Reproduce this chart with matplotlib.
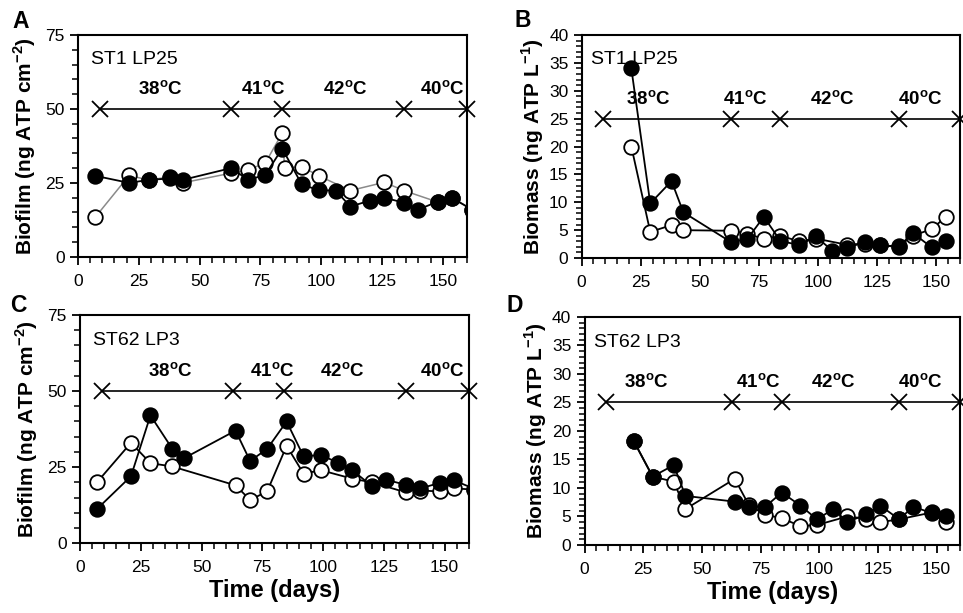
import matplotlib
matplotlib.use("Agg")
import matplotlib.pyplot as plt
from matplotlib.ticker import MultipleLocator

plt.rcParams["font.family"] = ["Liberation Sans", "DejaVu Sans"]
plt.rcParams["mathtext.fontset"] = "custom"
plt.rcParams["mathtext.rm"] = "Liberation Sans"
plt.rcParams["mathtext.bf"] = "Liberation Sans:bold"

# sampling days and ATP values (filled = one reactor, open = the other)
a_fill_days = [7, 21, 29, 38, 43, 63, 70, 77, 84, 92, 99, 106, 112, 120, 126, 134, 140, 148, 154, 162]
a_fill = [27.4, 25, 26, 26.5, 26, 30, 26, 27.7, 36.6, 24.5, 22.5, 22.4, 17, 19, 20, 18.3, 16, 18.7, 19.8, 16]
a_open_days = [7, 21, 29, 38, 43, 63, 70, 77, 84, 85, 92, 99, 112, 126, 134, 148, 154, 162]
a_open = [13.3, 27.5, 26, 27, 25, 28.3, 29.4, 31.7, 41.8, 30, 30.5, 27.4, 22.4, 25.2, 22.4, 18.5, 20, 16]

b_fill_days = [21, 29, 38, 43, 63, 70, 77, 84, 92, 99, 106, 112, 120, 126, 134, 140, 148, 154]
b_fill = [34, 9.8, 13.8, 8.2, 2.9, 3.4, 7.4, 3.1, 2.3, 3.9, 1.3, 1.8, 2.9, 2.3, 2.0, 4.5, 1.9, 3.1]
b_open_days = [21, 29, 38, 43, 63, 70, 77, 84, 92, 99, 112, 120, 126, 134, 140, 148, 154]
b_open = [20, 4.7, 5.9, 5.0, 4.9, 4.4, 3.4, 4.0, 3.0, 3.5, 2.4, 2.6, 2.3, 2.1, 4.0, 5.2, 7.4]

c_fill_days = [7, 21, 29, 38, 43, 64, 70, 77, 85, 92, 99, 106, 112, 120, 126, 134, 140, 148, 154, 162]
c_fill = [11.2, 22, 42, 31, 28, 37, 27, 31, 40, 28.5, 29, 26.5, 24, 18.8, 20.8, 19.2, 18, 19.8, 20.6, 17.9]
c_open_days = [7, 21, 29, 38, 64, 70, 77, 85, 92, 99, 112, 120, 134, 140, 148, 154, 162]
c_open = [20, 33, 26.3, 25.2, 19, 14.2, 17, 32, 22.8, 24, 21.2, 20, 16.7, 17.3, 17, 18, 17.6]

d_fill_days = [21, 29, 38, 43, 64, 70, 77, 84, 92, 99, 106, 112, 120, 126, 134, 140, 148, 154]
d_fill = [18.2, 12, 14, 8.6, 7.6, 6.7, 6.7, 9.2, 6.9, 4.5, 6.3, 4, 5.4, 6.9, 4.5, 6.7, 5.6, 5.1]
d_open_days = [21, 29, 38, 43, 64, 70, 77, 84, 92, 99, 112, 120, 126, 134, 148, 154]
d_open = [18.2, 12, 11.1, 6.3, 11.6, 7, 5.3, 4.7, 3.3, 3.5, 5, 4.6, 4, 4.5, 5.7, 4.1]

# temperature periods
temp_change_days = [9, 63, 84, 134, 160]
temp_labels = ["38", "41", "42", "40"]
temp_label_x = {
    "A": [34, 76, 110, 150],
    "B": [28, 69, 106, 143],
    "C": [37, 79, 108, 149],
    "D": [26.5, 74, 106, 143],
}

panels = [
    # letter, strain, fill, open, rect, ymax, ymajor, yminor, temp level, open line colour
    ("A", "ST1 LP25", (a_fill_days, a_fill), (a_open_days, a_open),
     [0.081, 0.581, 0.404, 0.362], 75, 25, 5, 50, "#8a8a8a"),
    ("B", "ST1 LP25", (b_fill_days, b_fill), (b_open_days, b_open),
     [0.604, 0.579, 0.393, 0.364], 40, 5, 1, 25, "black"),
    ("C", "ST62 LP3", (c_fill_days, c_fill), (c_open_days, c_open),
     [0.083, 0.114, 0.404, 0.372], 75, 25, 5, 50, "black"),
    ("D", "ST62 LP3", (d_fill_days, d_fill), (d_open_days, d_open),
     [0.607, 0.111, 0.390, 0.372], 40, 5, 1, 25, "black"),
]

fig = plt.figure(figsize=(9.63, 6.13), dpi=100)

for letter, strain, fill, opn, rect, ymax, ymaj, ymin, tlevel, ocol in panels:
    ax = fig.add_axes(rect)
    ax.plot(opn[0], opn[1], color=ocol, lw=1.1 if ocol != "black" else 1.3,
            marker="o", ms=10.5, mfc="white", mec="black", mew=1.3, zorder=3)
    ax.plot(fill[0], fill[1], color="black", lw=1.3,
            marker="o", ms=10.5, mfc="black", mec="black", mew=1.3, zorder=4)

    ax.plot(temp_change_days, [tlevel] * len(temp_change_days), color="black",
            lw=1.2, marker="x", ms=11, mew=1.3, clip_on=False, zorder=2)
    for lab, tx in zip(temp_labels, temp_label_x[letter]):
        ax.text(tx, tlevel + ymax * 0.085, lab + r"$^{\mathbf{o}}$C", ha="center",
                va="center", fontsize=13.5, fontweight="bold")

    ax.text(0.025 if ymax == 40 else 0.034, 0.89, strain, transform=ax.transAxes,
            fontsize=14, va="center", ha="left")

    ax.set_xlim(0, 160)
    ax.set_ylim(0, ymax)
    ax.xaxis.set_major_locator(MultipleLocator(25))
    ax.xaxis.set_minor_locator(MultipleLocator(5))
    ax.yaxis.set_major_locator(MultipleLocator(ymaj))
    ax.yaxis.set_minor_locator(MultipleLocator(ymin))
    ax.tick_params(which="major", direction="out", length=6, width=1.3, labelsize=12.5)
    ax.tick_params(axis="x", which="major", pad=6)
    ax.tick_params(which="minor", direction="out", length=4, width=1.1)
    for sp in ax.spines.values():
        sp.set_linewidth(1.5)

    if ymax == 75:
        ax.set_ylabel(r"Biofilm (ng ATP cm$^{\mathbf{-2}}$)", fontsize=15,
                      fontweight="bold", labelpad=5)
    else:
        ax.set_ylabel(r"Biomass (ng ATP L$^{\mathbf{-1}}$)", fontsize=15,
                      fontweight="bold", labelpad=2)
    if letter in ("C", "D"):
        ax.set_xlabel("Time (days)", fontsize=17, fontweight="bold", labelpad=3)

fig.text(0.021, 0.965, "A", fontsize=16.5, fontweight="bold", ha="center", va="center")
fig.text(0.543, 0.967, "B", fontsize=16.5, fontweight="bold", ha="center", va="center")
fig.text(0.019, 0.502, "C", fontsize=16.5, fontweight="bold", ha="center", va="center")
fig.text(0.535, 0.502, "D", fontsize=16.5, fontweight="bold", ha="center", va="center")

fig.savefig("out.png", dpi=100)
